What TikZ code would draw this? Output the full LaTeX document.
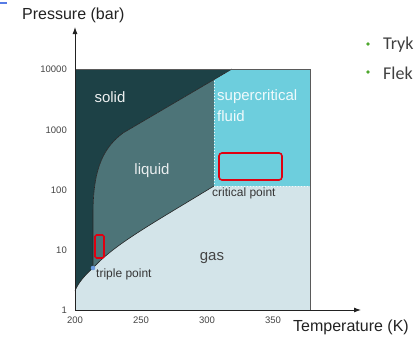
\documentclass[tikz,border=0pt]{standalone}
\usepackage{fontspec}
\setmainfont{Liberation Sans}
\newfontfamily\bulletfont{Carlito}
\usetikzlibrary{arrows.meta}
\definecolor{solidc}{HTML}{1D4146}
\definecolor{liquidc}{HTML}{4D7478}
\definecolor{superc}{HTML}{6DCEDD}
\definecolor{gasc}{HTML}{D3E4E9}
\definecolor{axisc}{HTML}{222222}
\definecolor{borderc}{HTML}{5A5A5A}
\definecolor{tickc}{HTML}{444444}
\definecolor{redbox}{HTML}{E00010}
\definecolor{bulletg}{HTML}{4EA72E}
\definecolor{bullett}{HTML}{404040}
\definecolor{dotblue}{HTML}{6B9BE0}
\tikzset{
  axisline/.style={draw=axisc, line width=0.9pt, -{Latex[length=7pt,width=5pt]}},
  axislabel/.style={font=\fontsize{16}{18}\selectfont, text=axisc, inner sep=0pt, anchor=west},
  ticklbl/.style={font=\fontsize{9.5}{11}\selectfont, text=tickc, inner sep=0pt},
  regionlbl/.style={font=\fontsize{15}{17}\selectfont, inner sep=0pt},
  pointlbl/.style={font=\fontsize{12}{14}\selectfont, text=tickc!80!black, inner sep=0pt, anchor=west},
  phaseline/.style={draw=black!85, line width=0.6pt},
  critdots/.style={draw=white!92!superc, line width=1pt, dotted},
  markbox/.style={draw=redbox, line width=1.6pt, rounded corners=3pt},
  bullettxt/.style={font=\bulletfont\fontsize{18}{20}\selectfont, text=bullett, inner sep=0pt, anchor=west}
}
\begin{document}
\begin{tikzpicture}[x=1pt,y=-1pt]
\useasboundingbox (0,0) rectangle (416,362);
\clip (0,0) rectangle (416,362);
% stray blue dash
\draw[dotblue!80!blue, line width=1.2pt] (0,3) -- (7,3);
% gas background
\fill[gasc] (75,69) rectangle (310,310);
% solid region
\fill[solidc] (75,69) -- (232,69) -- (123,133)
  .. controls (100,150) and (93,175) .. (93,215) -- (93,268)
  .. controls (85,275) and (78,283) .. (75,291) -- cycle;
% liquid region
\fill[liquidc] (232,69) -- (123,133)
  .. controls (100,150) and (93,175) .. (93,215) -- (93,268)
  .. controls (115,244) and (150,225) .. (214,186) -- (214,80) -- cycle;
% supercritical region
\fill[superc] (214,80) -- (232,69) -- (310,69) -- (310,186) -- (214,186) -- cycle;
% phase lines
\draw[phaseline] (232,69) -- (123,133)
  .. controls (100,150) and (93,175) .. (93,215) -- (93,268);
\draw[phaseline] (93,268) .. controls (115,244) and (150,225) .. (214,186);
\draw[phaseline] (93,268) .. controls (85,275) and (78,283) .. (75,291);
% dotted critical lines
\draw[critdots] (214,81) -- (214,186) -- (310,186);
% border
\draw[borderc, line width=1pt] (75,69) -- (310,69) -- (310,310);
% axes
\coordinate (origin) at (75,310);
\coordinate (ytip) at (75,27);
\coordinate (xtip) at (361,310);
\draw[axisline] (origin) -- (ytip);
\draw[axisline] (origin) -- (xtip);
% axis labels
\node[axislabel] (plabel) at (22,15) {Pressure (bar)};
\node[axislabel] (tlabel) at (293,327) {Temperature (K)};
% y ticks
\node[ticklbl, anchor=east] (y4) at (67,69) {10000};
\node[ticklbl, anchor=east] (y3) at (67,130) {1000};
\node[ticklbl, anchor=east] (y2) at (67,190) {100};
\node[ticklbl, anchor=east] (y1) at (67,250) {10};
\node[ticklbl, anchor=east] (y0) at (67,310) {1};
% x ticks
\node[ticklbl] (x200) at (75,320) {200};
\node[ticklbl] (x250) at (141,320) {250};
\node[ticklbl] (x300) at (207,320) {300};
\node[ticklbl] (x350) at (273,320) {350};
% region labels
\node[regionlbl, text=white!92!solidc] (solid) at (110,97) {solid};
\node[regionlbl, text=white!88!liquidc] (liquid) at (152,171) {liquid};
\node[regionlbl, text=white!90!superc, anchor=west] (super) at (217,97) {supercritical};
\node[regionlbl, text=white!90!superc, anchor=west] (fluid) at (217,116) {fluid};
\node[regionlbl, text=tickc] (gas) at (212,258) {gas};
% points
\fill[dotblue] (93,268) circle (2.3pt);
\node[pointlbl] (triple) at (96,274) {triple point};
\node[pointlbl] (critical) at (212,193) {critical point};
% red boxes
\draw[markbox] (219,153) rectangle (282,180);
\draw[markbox, rounded corners=1.5pt] (95,235) rectangle (104,258);
% bullets
\fill[bulletg] (368,44) circle (1.8pt);
\fill[bulletg] (368,72) circle (1.8pt);
\node[bullettxt] (tryk) at (383,45) {Tryk};
\node[bullettxt] (flek) at (383,73) {Flek};
\end{tikzpicture}
\end{document}
